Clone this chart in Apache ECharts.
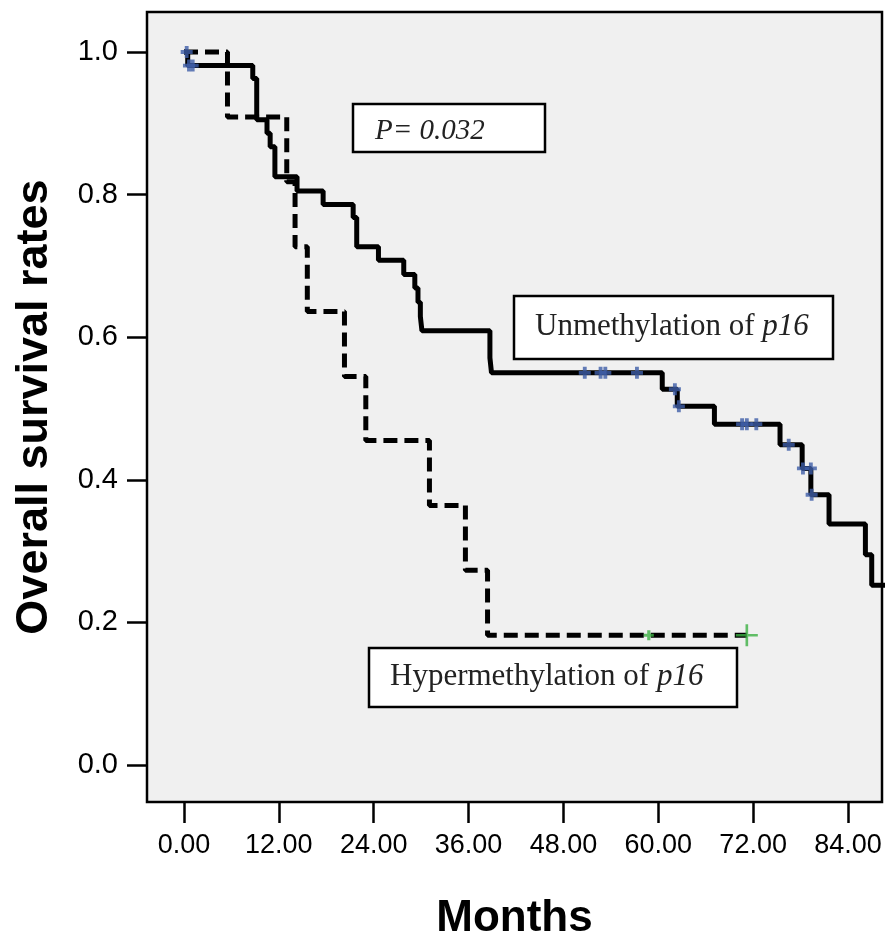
<!DOCTYPE html>
<html>
<head>
<meta charset="utf-8">
<script src="https://cdn.jsdelivr.net/npm/echarts@6/dist/echarts.min.js"></script>
<style>html,body{margin:0;padding:0;background:#fff}#c{width:890px;height:939px}</style>
</head>
<body>
<div id="c"></div>
<script>
// Unmethylation of p16 (solid) — event times (months) and survival after each step
const unmethTime = [0, 0.47, 8.7, 9.2, 10.5, 10.9, 11.5, 14.3, 17.6, 21.4, 21.85, 24.6, 27.8, 29.2, 29.6, 29.9, 30.1, 38.7, 38.9, 60.5, 62.4, 67.1, 75.4, 78.2, 79.3, 81.6, 86.2, 87.0, 89.0];
const unmethSurv = [1.0, 0.981, 0.963, 0.905, 0.886, 0.867, 0.825, 0.805, 0.786, 0.768, 0.727, 0.708, 0.688, 0.669, 0.649, 0.629, 0.609, 0.571, 0.550, 0.527, 0.503, 0.478, 0.449, 0.416, 0.379, 0.338, 0.295, 0.252, 0.252];
const unmethCensorTime = [0.34, 0.63, 1.1, 50.7, 52.7, 53.3, 57.3, 62.1, 62.6, 70.6, 71.2, 72.4, 76.5, 78.3, 79.3, 79.4];
const unmethCensorSurv = [1.0, 0.981, 0.981, 0.550, 0.550, 0.550, 0.550, 0.527, 0.503, 0.478, 0.478, 0.478, 0.449, 0.416, 0.416, 0.379];

// Hypermethylation of p16 (dashed)
const hyperTime = [0, 5.5, 13.0, 14.05, 15.6, 20.3, 23.0, 31.05, 35.6, 38.4, 71.2];
const hyperSurv = [1.0, 0.909, 0.818, 0.727, 0.636, 0.545, 0.455, 0.364, 0.273, 0.182, 0.182];
const hyperCensorTime = [58.8, 71.2];
const hyperCensorSurv = [0.182, 0.182];

const xTicks = [0, 12, 24, 36, 48, 60, 72, 84];
const yTicks = [0, 0.2, 0.4, 0.6, 0.8, 1.0];

const labelP = 'P= 0.032';
const labelUn = 'Unmethylation of ';
const labelHyper = 'Hypermethylation of ';
const labelGene = 'p16';

const zip = (a, b) => a.map((v, i) => [v, b[i]]);
const plusThick = 'path://M3.4,0H6.6V3.4H10V6.6H6.6V10H3.4V6.6H0V3.4H3.4Z';
const plusThin = 'path://M4.4,0H5.6V4.4H10V5.6H5.6V10H4.4V5.6H0V4.4H4.4Z';

const chart = echarts.init(document.getElementById('c'), null, {renderer: 'canvas'});
const sans = '"Liberation Sans",Arial,sans-serif';
const serif = '"Liberation Serif","Times New Roman",serif';

function box(x, y, w, h, tx, ty, rich) {
  return {
    type: 'group',
    children: [
      {type: 'rect', shape: {x: x, y: y, width: w, height: h}, style: {fill: '#fff', stroke: '#000', lineWidth: 2.5}, z: 10},
      {type: 'text', x: tx, y: ty, style: rich, z: 11}
    ]
  };
}

chart.setOption({
  animation: false,
  backgroundColor: '#fff',
  grid: {left: 147, top: 12, width: 735, height: 790, outerBoundsMode: 'none', containLabel: false,
    show: true, backgroundColor: '#f0f0f0', borderColor: '#000', borderWidth: 2.5},
  xAxis: {
    type: 'value', min: -4.68, max: 88.3,
    splitLine: {show: false},
    axisLine: {show: false, onZero: false},
    axisTick: {show: true, inside: false, length: 21, customValues: xTicks, lineStyle: {color: '#000', width: 2.5}},
    axisLabel: {customValues: xTicks, formatter: v => v.toFixed(2), color: '#000', fontFamily: sans, fontSize: 27, margin: 30},
    name: 'Months', nameLocation: 'middle', nameGap: 95,
    nameTextStyle: {fontFamily: sans, fontWeight: 'bold', fontSize: 44, color: '#000'}
  },
  yAxis: {
    type: 'value', min: -0.0519, max: 1.0561,
    splitLine: {show: false},
    axisLine: {show: false, onZero: false},
    axisTick: {show: true, inside: false, length: 20, customValues: yTicks, lineStyle: {color: '#000', width: 2.5}},
    axisLabel: {customValues: yTicks, formatter: v => v.toFixed(1), color: '#000', fontFamily: sans, fontSize: 29, margin: 29},
    name: 'Overall survival rates', nameLocation: 'middle', nameGap: 90,
    nameTextStyle: {fontFamily: sans, fontWeight: 'bold', fontSize: 45, color: '#000'}
  },
  series: [
    {type: 'line', step: 'end', data: zip(unmethTime, unmethSurv), symbol: 'none', lineStyle: {color: '#000', width: 5}, z: 3},
    {type: 'line', step: 'end', data: zip(hyperTime, hyperSurv), symbol: 'none', lineStyle: {color: '#000', width: 5, type: [14, 7]}, z: 3},
    {type: 'scatter', data: zip(unmethCensorTime, unmethCensorSurv), symbol: plusThick, symbolSize: 12, itemStyle: {color: '#3f5ea8'}, z: 5},
    {type: 'scatter', data: zip(hyperCensorTime, hyperCensorSurv), symbol: (v, p) => p.dataIndex === hyperCensorTime.length - 1 ? plusThin : plusThick,
      symbolSize: (v, p) => p.dataIndex === hyperCensorTime.length - 1 ? 22 : 10, itemStyle: {color: '#3cb043'}, z: 5}
  ],
  graphic: [
    box(353, 104, 192, 48, 375, 131, {text: labelP, fontFamily: serif, fontStyle: 'italic', fontSize: 29, fill: '#222', verticalAlign: 'middle'}),
    box(514, 296, 319, 63, 535, 327, {text: '{n|' + labelUn + '}{i|' + labelGene + '}', verticalAlign: 'middle',
      rich: {n: {fontFamily: serif, fontSize: 31, fill: '#222'}, i: {fontFamily: serif, fontStyle: 'italic', fontSize: 31, fill: '#222'}}}),
    box(369, 648, 368, 59, 390, 677, {text: '{n|' + labelHyper + '}{i|' + labelGene + '}', verticalAlign: 'middle',
      rich: {n: {fontFamily: serif, fontSize: 31, fill: '#222'}, i: {fontFamily: serif, fontStyle: 'italic', fontSize: 31, fill: '#222'}}})
  ]
});
</script>
</body>
</html>
